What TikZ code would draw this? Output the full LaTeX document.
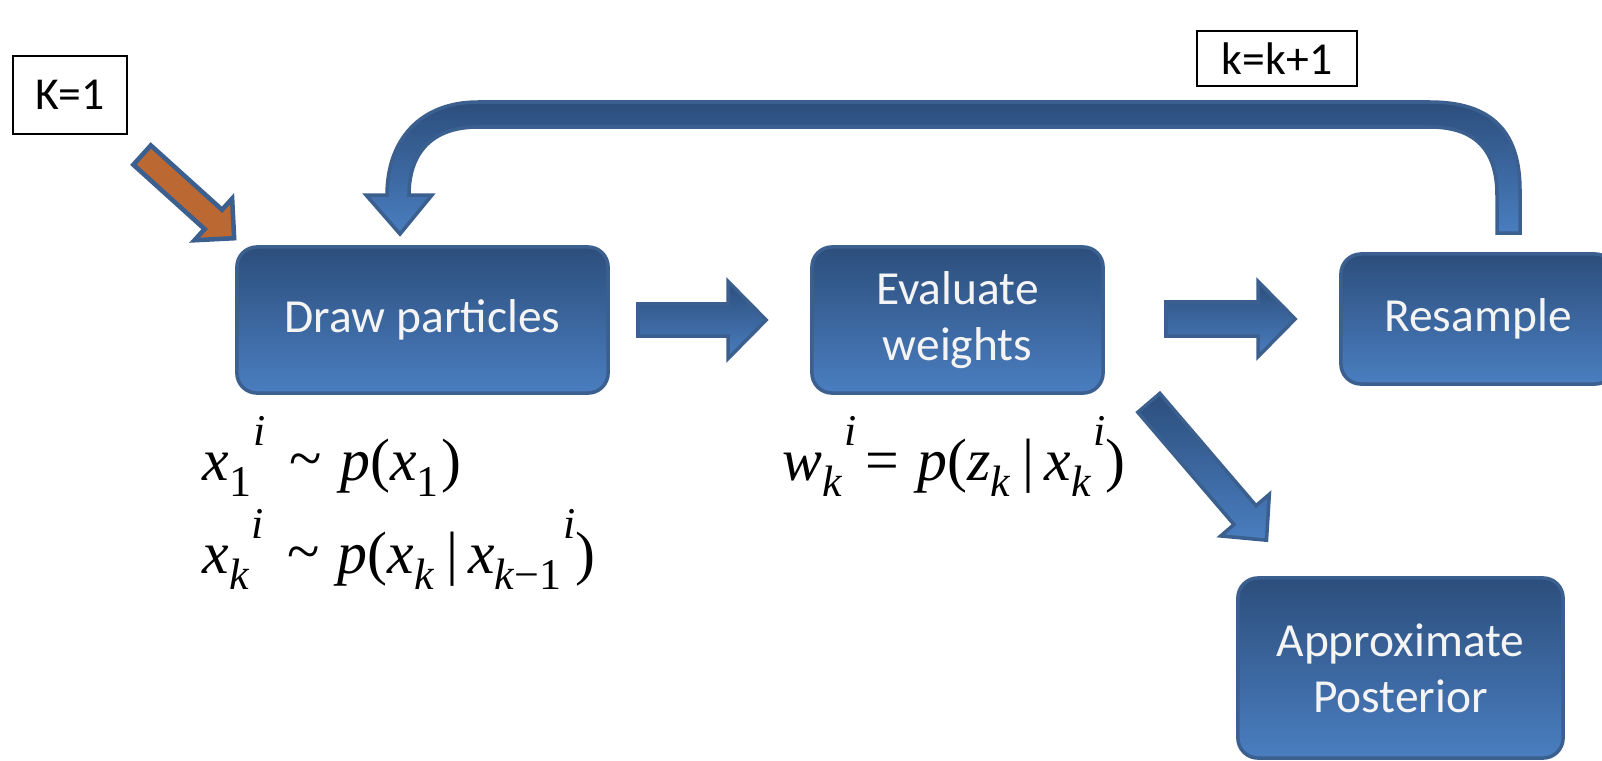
\documentclass[tikz,border=0pt]{standalone}
\usepackage{fontspec}
\setmainfont{Carlito}
\newfontfamily\tmsfont{Liberation Serif}
\usepackage{tikz}
\usetikzlibrary{calc}
\definecolor{boxTop}{HTML}{2C4E7C}
\definecolor{boxBot}{HTML}{4A7EC0}
\definecolor{boxLine}{HTML}{3B5F8E}
\definecolor{boxText}{HTML}{F4F4F4}
\definecolor{rustDark}{HTML}{BC6833}
\definecolor{rustLight}{HTML}{DD9A67}
% letter with a low index and a raised index set after it
\newcommand{\vsub}[3]{{\itshape #1}\raisebox{-0.27em}{\fontsize{12.5}{12}\selectfont #2}%
  \raisebox{0.58em}{\fontsize{12.5}{12}\selectfont\kern0.06em\itshape #3}}
\newcommand{\tld}{\hspace{0.4em}\raisebox{0.02em}{\symbol{126}}\hspace{0.3em}}
% block arrow: [options]{tail}{tip}{half shaft}{half head}{head length}
\newcommand{\fatarrow}[6][]{%
  \coordinate (fa-b) at ($(#3)!#6!(#2)$);
  \path[fat,#1] ($(#2)!#4!90:(#3)$) -- ($(fa-b)!#4!90:(#3)$) -- ($(fa-b)!#5!90:(#3)$)
    -- (#3) -- ($(fa-b)!#5!-90:(#3)$) -- ($(fa-b)!#4!-90:(#3)$)
    -- ($(#2)!#4!-90:(#3)$) -- cycle;}

\begin{document}
\begin{tikzpicture}[x=0.01cm,y=-0.01cm,
  box/.style={rectangle,rounded corners=2mm,draw=boxLine,line width=1pt,
    top color=boxTop,bottom color=boxBot,text=boxText,align=center,
    font=\fontsize{13.5}{16}\selectfont},
  fat/.style={draw=boxLine,line width=1pt,line join=miter,top color=boxTop,bottom color=boxBot},
  tag/.style={rectangle,draw=black,line width=0.6pt,fill=white,
    font=\fontsize{13}{15}\selectfont},
  eq/.style={anchor=base west,inner sep=0pt,font=\tmsfont\fontsize{17}{20}\selectfont}]
  \useasboundingbox (0,0) rectangle (1602,760);

  \node[tag,minimum width=1.14cm,minimum height=0.78cm] (kinit) at (70,95) {K=1};
  \node[tag,minimum width=1.6cm,minimum height=0.55cm] (kstep) at (1277,58.5) {k=k+1};

  \node[box,minimum width=3.71cm,minimum height=1.46cm] (drawp) at (422.5,320) {Draw particles};
  \node[box,minimum width=2.91cm,minimum height=1.46cm] (weigh) at (957.5,320) {Evaluate\\weights};
  \node[box,minimum width=2.74cm,minimum height=1.3cm] (resamp) at (1478,319) {Resample};
  \node[box,minimum width=3.25cm,minimum height=1.8cm] (post) at (1400.5,668) {Approximate\\Posterior};

  % ends of the block arrows
  \coordinate (a1-t) at ($(drawp.east)+(28,0)$);
  \coordinate (a1-h) at ($(weigh.west)+(-44,0)$);
  \coordinate (a2-t) at ($(weigh.east)+(61,-1)$);
  \coordinate (a2-h) at ($(resamp.west)+(-44,0)$);
  \coordinate (a3-t) at ($(weigh.south east)+(44,8)$);
  \coordinate (a3-h) at ($(post.north)+(-134,-36)$);
  \coordinate (a0-t) at ($(kinit.south east)+(14,20)$);
  \coordinate (a0-h) at ($(drawp.north west)+(-1,-7)$);

  \fatarrow{a1-t}{a1-h}{0.16cm}{0.385cm}{0.38cm}
  \fatarrow{a2-t}{a2-h}{0.17cm}{0.375cm}{0.37cm}
  \fatarrow{a3-t}{a3-h}{0.145cm}{0.32cm}{0.33cm}
  \fatarrow[line width=1.3pt,top color=rustDark,middle color=rustLight,
    bottom color=rustDark,shading angle=45]{a0-t}{a0-h}{0.13cm}{0.28cm}{0.28cm}

  % loop back from Resample to Draw particles
  \draw[boxLine,line width=1pt,top color=boxTop,bottom color=boxBot]
    (1520,233) -- (1520,190) .. controls (1520,130) and (1490,102) .. (1430,102)
    -- (478,102) .. controls (420,102) and (387,140) .. (387,195)
    -- (366,195) -- (400,234) -- (432,195) -- (409,195)
    .. controls (409,155) and (430,127) .. (478,127)
    -- (1430,127) .. controls (1475,127) and (1497,150) .. (1497,195)
    -- (1497,233) -- cycle;

  \node[eq] (pinit) at (202,480)
    {\vsub{x}{1}{i}\tld{\itshape p}(\vsub{x}{1}{})};
  \node[eq] (ptrans) at (202,573)
    {\vsub{x}{\itshape k}{i}\tld{\itshape p}(\vsub{x}{\itshape k}{}\,|\,\vsub{x}{{\itshape k}−1}{i})};
  \node[eq] (lik) at (782,480)
    {\vsub{w}{\itshape k}{i}\hspace{0.15em}=\hspace{0.3em}{\itshape p}(\vsub{z}{\itshape k}{}\,|\,\vsub{x}{\itshape k}{i})};
\end{tikzpicture}
\end{document}
